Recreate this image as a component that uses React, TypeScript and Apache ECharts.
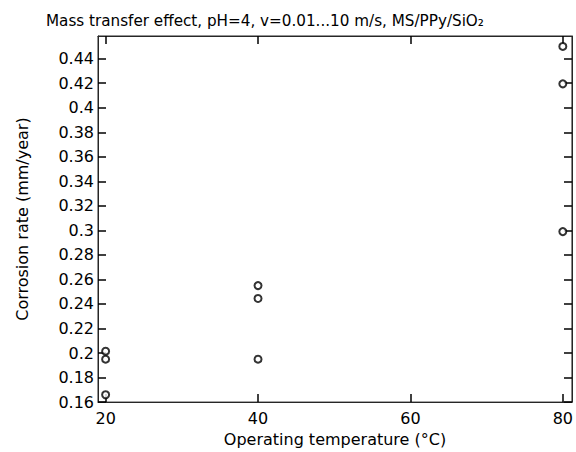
import React, { useEffect, useRef } from "react";
import * as echarts from "echarts";

const titleText = "Mass transfer effect, pH=4, v=0.01...10 m/s, MS/PPy/SiO₂";
const xName = "Operating temperature (°C)";
const yName = "Corrosion rate (mm/year)";

const temperatures = [20, 20, 20, 40, 40, 40, 80, 80, 80];
const corrosionRates = [0.2015, 0.195, 0.166, 0.255, 0.2445, 0.195, 0.45, 0.4195, 0.299];

const xTicks = [20, 40, 60, 80];
const yTicks = [0.16, 0.18, 0.2, 0.22, 0.24, 0.26, 0.28, 0.3, 0.32, 0.34, 0.36, 0.38, 0.4, 0.42, 0.44];

const FONT = "DejaVu Sans";
const INK = "#000";
const AXIS = "#262626";

export default function App() {
  const ref = useRef<HTMLDivElement>(null);
  useEffect(() => {
    if (!ref.current) return;
    const chart = echarts.init(ref.current, null, { renderer: "svg" });
    const xRange = { min: 19, max: 81.2 };
    const yRange = { min: 0.16, max: 0.4585 };
    const tickLine = { color: "#000", width: 1.5 };
    chart.setOption({
      animation: false,
      backgroundColor: "#fff",
      textStyle: { fontFamily: FONT },
      title: {
        text: titleText,
        left: 46,
        top: 13,
        padding: 0,
        textStyle: { fontFamily: FONT, fontSize: 15.2, fontWeight: "normal", color: INK },
      },
      grid: {
        left: 98,
        right: 1,
        top: 36,
        bottom: 43,
        containLabel: false,
        show: true,
        borderColor: AXIS,
        borderWidth: 1,
        backgroundColor: "transparent",
      },
      xAxis: [
        {
          type: "value",
          ...xRange,
          name: xName,
          nameLocation: "middle",
          nameGap: 23,
          nameTextStyle: { fontFamily: FONT, fontSize: 16, color: INK },
          axisLine: { show: true, onZero: false, lineStyle: { color: AXIS, width: 1 } },
          axisTick: { show: true, inside: true, length: 8, lineStyle: tickLine, customValues: xTicks },
          axisLabel: { show: true, customValues: xTicks, margin: 8, fontFamily: FONT, fontSize: 16, color: INK },
          splitLine: { show: false },
        },
        {
          type: "value",
          position: "top",
          ...xRange,
          axisLine: { show: true, onZero: false, lineStyle: { color: AXIS, width: 1 } },
          axisTick: { show: true, inside: true, length: 8, lineStyle: tickLine, customValues: xTicks },
          axisLabel: { show: false },
          splitLine: { show: false },
        },
      ],
      yAxis: [
        {
          type: "value",
          ...yRange,
          name: yName,
          nameLocation: "middle",
          nameGap: 68,
          nameRotate: 90,
          nameTextStyle: { fontFamily: FONT, fontSize: 16, color: INK },
          axisLine: { show: true, onZero: false, lineStyle: { color: AXIS, width: 1 } },
          axisTick: { show: true, inside: true, length: 8, lineStyle: tickLine, customValues: yTicks },
          axisLabel: { show: true, customValues: yTicks, margin: 4, fontFamily: FONT, fontSize: 16, color: INK },
          splitLine: { show: false },
        },
        {
          type: "value",
          position: "right",
          ...yRange,
          axisLine: { show: true, onZero: false, lineStyle: { color: AXIS, width: 1 } },
          axisTick: { show: true, inside: true, length: 8, lineStyle: tickLine, customValues: yTicks },
          axisLabel: { show: false },
          splitLine: { show: false },
        },
      ],
      series: [
        {
          type: "scatter",
          xAxisIndex: 0,
          yAxisIndex: 0,
          data: temperatures.map((t, i) => [t, corrosionRates[i]]),
          symbol: "emptyCircle",
          symbolSize: 7,
          itemStyle: { color: INK, borderColor: INK, borderWidth: 1.1 },
          clip: false,
        },
      ],
    });
    return () => chart.dispose();
  }, []);
  return (
    <div
      ref={ref}
      style={{ position: "fixed", left: 0, top: 0, width: 576, height: 452 }}
    />
  );
}
